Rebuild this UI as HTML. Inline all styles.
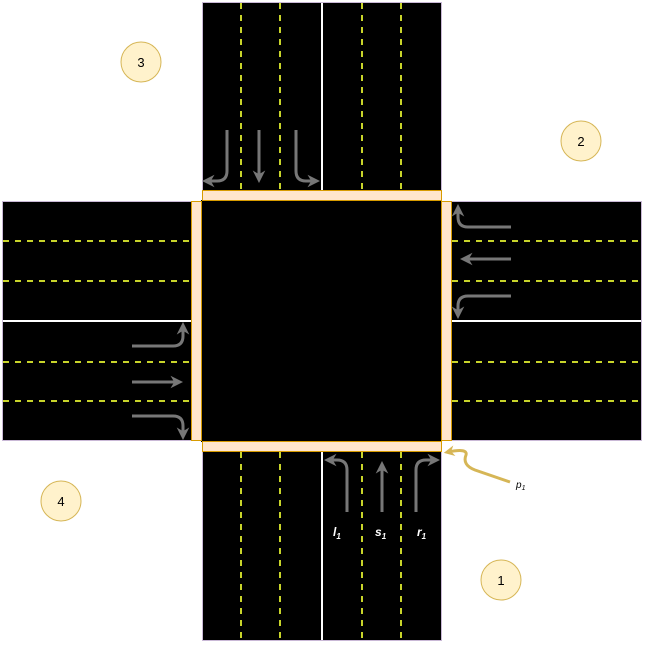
<!DOCTYPE html>
<html><head><style>html,body{margin:0;padding:0;background:#fff}</style></head><body>
<svg width="646" height="645" xmlns="http://www.w3.org/2000/svg" style="display:block">
<defs>
<marker id="a" viewBox="0 0 10 10" refX="6" refY="5" markerWidth="4.2" markerHeight="4.2" orient="auto" markerUnits="strokeWidth"><path d="M0,0 L10,5 L0,10 L3,5 z" fill="#777"/></marker>
<marker id="g" viewBox="0 0 10 10" refX="6" refY="5" markerWidth="3.6" markerHeight="3.6" orient="auto" markerUnits="strokeWidth"><path d="M0,0 L10,5 L0,10 L3,5 z" fill="#d6b656"/></marker>
</defs>
<g stroke="#c9b8d6" stroke-width="1">
<rect x="202.5" y="2.5" width="239" height="638" fill="#000"/>
<rect x="2.5" y="201.5" width="639" height="239" fill="#000"/>
</g>
<rect x="201" y="200" width="241" height="242" fill="#000"/>
<g stroke="#fff" stroke-width="2">
<line x1="322" y1="3" x2="322" y2="190"/><line x1="322" y1="452" x2="322" y2="640"/>
<line x1="3" y1="321" x2="191" y2="321"/><line x1="452" y1="321" x2="641" y2="321"/>
</g>
<g stroke="#c8d42a" stroke-width="2" stroke-dasharray="6,6">
<line x1="241" y1="3" x2="241" y2="190"/><line x1="280" y1="3" x2="280" y2="190"/>
<line x1="362" y1="3" x2="362" y2="190"/><line x1="401" y1="3" x2="401" y2="190"/>
<line x1="241" y1="452" x2="241" y2="640"/><line x1="280" y1="452" x2="280" y2="640"/>
<line x1="362" y1="452" x2="362" y2="640"/><line x1="401" y1="452" x2="401" y2="640"/>
<line x1="3" y1="241" x2="191" y2="241"/><line x1="3" y1="281" x2="191" y2="281"/>
<line x1="3" y1="362" x2="191" y2="362"/><line x1="3" y1="401" x2="191" y2="401"/>
<line x1="452" y1="241" x2="641" y2="241"/><line x1="452" y1="281" x2="641" y2="281"/>
<line x1="452" y1="362" x2="641" y2="362"/><line x1="452" y1="401" x2="641" y2="401"/>
</g>
<g fill="#ffe6cc" stroke="#d79b00" stroke-width="1">
<rect x="202.5" y="190.5" width="239" height="10"/>
<rect x="202.5" y="441.5" width="239" height="10"/>
<rect x="191.5" y="201.5" width="10" height="239"/>
<rect x="441.5" y="201.5" width="10" height="239"/>
</g>
<g stroke="#777" stroke-width="3" fill="none" marker-end="url(#a)">
<path d="M347,512 V470 Q347,460 337,460 H329"/>
<path d="M382,512 V466"/>
<path d="M416,512 V470 Q416,460 426,460 H435"/>
<path d="M227,130 V171 Q227,181 217,181 H207"/>
<path d="M259,130 V178"/>
<path d="M296,130 V171 Q296,181 306,181 H315"/>
<path d="M511,227 H468 Q458,227 458,217 V209"/>
<path d="M511,259 H465"/>
<path d="M511,296 H468 Q458,296 458,306 V314"/>
<path d="M132,346 H173 Q183,346 183,336 V327"/>
<path d="M132,382 H178"/>
<path d="M132,416 H173 Q183,416 183,426 V435"/>
</g>
<path d="M510,482 L475,470 Q462,465 466,455 Q468,448 448,452" stroke="#d6b656" stroke-width="3" fill="none" marker-end="url(#g)"/>
<g font-family="Liberation Sans, sans-serif" font-style="italic" font-weight="bold" font-size="12" fill="#fff">
<text x="333" y="536">l<tspan font-size="8" dy="3">1</tspan></text>
<text x="375" y="536">s<tspan font-size="8" dy="3">1</tspan></text>
<text x="417" y="536">r<tspan font-size="8" dy="3">1</tspan></text>
</g>
<text x="516" y="488" font-family="Liberation Sans, sans-serif" font-style="italic" font-size="10" fill="#000">p<tspan font-size="7" dy="2">1</tspan></text>
<g fill="#fff2cc" stroke="#d6b656">
<circle cx="141" cy="62" r="20"/><circle cx="581" cy="141" r="20"/>
<circle cx="61" cy="501" r="20"/><circle cx="501" cy="580" r="20"/>
</g>
<g font-family="Liberation Sans, sans-serif" font-size="13" fill="#000" text-anchor="middle">
<text x="141" y="67">3</text><text x="581" y="146">2</text>
<text x="61" y="506">4</text><text x="501" y="585">1</text>
</g>
</svg>
</body></html>
